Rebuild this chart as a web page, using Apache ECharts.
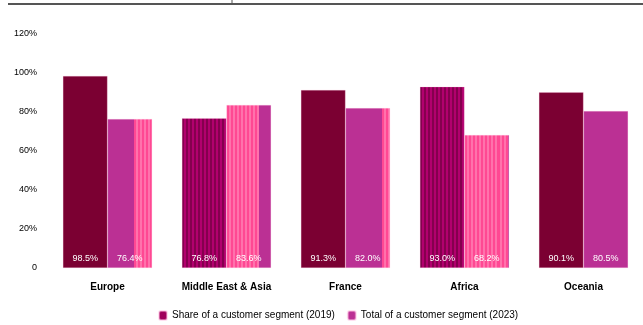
<!DOCTYPE html>
<html>
<head>
<meta charset="utf-8">
<script src="https://cdn.jsdelivr.net/npm/echarts@6/dist/echarts.min.js"></script>
<style>
html,body{margin:0;padding:0;background:#fff;}
#chart{width:643px;height:325px;}
</style>
</head>
<body>
<div id="chart"></div>
<script>
// ---- data ----
const categories = ['Europe', 'Middle East & Asia', 'France', 'Africa', 'Oceania'];
const seriesNames = ['Share of a customer segment (2019)', 'Total of a customer segment (2023)'];
const valuesA = [98.5, 76.8, 91.3, 93.0, 90.1];
const valuesB = [76.4, 83.6, 82.0, 68.2, 80.5];
const yTicks = [0, 20, 40, 60, 80, 100, 120];

// ---- styles (kept apart from data) ----
const DARK = '#7B0032', MAG = '#BB3094', PINK_A = '#FF4893', PINK_B = '#FF72AC';
const DARK_A = '#85004E', DARK_B = '#B2006E';
// fill kind per bar: 'solid' or 'stripe'; for series B a split point between two fills
const fillA = ['solid', 'stripe', 'solid', 'stripe', 'solid'];
const fillB = [
  [['mag', 0.6], ['pink', 1]],
  [['pink', 0.72], ['mag', 1]],
  [['mag', 0.82], ['pink', 1]],
  [['pink', 0.97], ['mag', 1]],
  [['mag', 1]]
];

function stripeStops(stops, from, to, cA, cB, n) {
  const w = (to - from) / n;
  for (let i = 0; i < n; i++) {
    const c = i % 2 ? cB : cA;
    stops.push({offset: from + i * w, color: c});
    stops.push({offset: from + (i + 1) * w, color: c});
  }
}
function grad(stops) {
  return {type: 'linear', x: 0, y: 0, x2: 1, y2: 0, colorStops: stops};
}
function styleA(kind) {
  if (kind === 'solid') return {color: DARK};
  const s = []; stripeStops(s, 0, 1, DARK_A, DARK_B, 22);
  return {color: grad(s)};
}
function styleB(parts) {
  const s = []; let from = 0;
  parts.forEach(([k, to]) => {
    if (k === 'mag') { s.push({offset: from, color: MAG}); s.push({offset: to, color: MAG}); }
    else stripeStops(s, from, to, PINK_A, PINK_B, Math.max(2, Math.round((to - from) * 22)));
    from = to;
  });
  return {color: grad(s)};
}

const chart = echarts.init(document.getElementById('chart'), null, {renderer: 'canvas'});
const FONT = 'Liberation Sans';
const labelCfg = {
  show: true, position: 'insideBottom', distance: 5, color: '#fff',
  fontSize: 9, fontFamily: FONT, formatter: p => p.value.toFixed(1) + '%'
};
chart.setOption({
  animation: false,
  textStyle: {fontFamily: FONT},
  graphic: [{
    type: 'line', shape: {x1: 8, y1: 4, x2: 643, y2: 4},
    style: {stroke: '#555', lineWidth: 2}
  }, {
    type: 'line', shape: {x1: 232, y1: 0, x2: 232, y2: 4},
    style: {stroke: '#555', lineWidth: 1}
  }],
  grid: {left: 48, width: 600, top: 34, bottom: 57, containLabel: false},
  legend: {
    left: 153, top: 305, itemGap: 12, itemWidth: 8, itemHeight: 9,
    textStyle: {fontSize: 10, color: '#000', fontFamily: FONT},
    data: [
      {name: seriesNames[0], itemStyle: {color: '#A0005C'}},
      {name: seriesNames[1], itemStyle: {color: MAG}}
    ]
  },
  xAxis: {
    type: 'category', data: categories,
    axisLine: {show: false}, axisTick: {show: false},
    axisLabel: {margin: 14, fontSize: 10, fontWeight: 'bold', color: '#000', fontFamily: FONT}
  },
  yAxis: {
    type: 'value', min: yTicks[0], max: yTicks[yTicks.length - 1], interval: yTicks[1] - yTicks[0],
    splitLine: {show: false}, axisLine: {show: false}, axisTick: {show: false},
    axisLabel: {margin: 11, fontSize: 9, color: '#000', fontFamily: FONT,
      formatter: v => v === 0 ? '0' : v + '%'}
  },
  series: [
    {
      name: seriesNames[0], type: 'bar', barGap: '0%', barCategoryGap: '25%',
      data: valuesA.map((v, i) => ({value: v, itemStyle: styleA(fillA[i])})),
      itemStyle: {borderColor: 'rgba(255,190,225,0.5)', borderWidth: 0.5},
      label: labelCfg
    },
    {
      name: seriesNames[1], type: 'bar',
      data: valuesB.map((v, i) => ({value: v, itemStyle: styleB(fillB[i])})),
      itemStyle: {borderColor: 'rgba(255,190,225,0.5)', borderWidth: 0.5},
      label: labelCfg
    }
  ]
});
</script>
</body>
</html>
